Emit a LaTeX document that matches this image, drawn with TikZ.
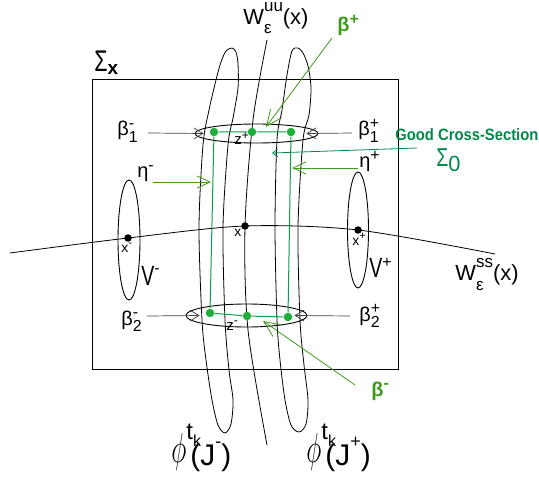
\documentclass[tikz,border=0pt]{standalone}
\usepackage{amsmath}
\usepackage{fontspec}
\setmainfont{Liberation Sans}
\usepackage{tikz}
\usetikzlibrary{arrows.meta,shapes.geometric}
\definecolor{sectgreen}{HTML}{00894B}
\definecolor{betagreen}{HTML}{3F9A1C}
\definecolor{dotgreen}{HTML}{1FAF3A}
\definecolor{pathgreen}{HTML}{12994A}
\renewcommand{\defaultscriptratio}{.8}
\newcommand{\supsub}[3]{#1$^{\text{#2}}_{\text{#3}}$}
% superscript over subscript, width of the wider one
\newcommand{\stk}[4]{\setbox0\hbox{\raisebox{#3}{#1}}\setbox2\hbox{\raisebox{#4}{#2}}%
  \ifdim\wd0>\wd2 \rlap{\box2}\box0 \else\rlap{\box0}\box2 \fi}
\newcommand{\flowof}[1]{\raisebox{3bp}{\resizebox{15bp}{29bp}{$\phi$}}%
  \rlap{\raisebox{26bp}{\fontsize{24}{24}\selectfont t\raisebox{-7bp}{\fontsize{16}{16}\selectfont k}}}%
  \kern4bp\fontsize{30}{30}\selectfont(J\raisebox{18bp}{\fontsize{18}{18}\selectfont#1})}

\begin{document}
\begin{tikzpicture}[x=1bp,y=-1bp,line width=.8bp,
  lbl/.style={inner sep=0pt,anchor=base west,font=\fontsize{20}{24}\selectfont},
  smalllbl/.style={lbl,font=\fontsize{14}{16}\selectfont},
  disk/.style={draw,ellipse,inner sep=0pt,line width=.9bp},
  blackdot/.style={circle,fill=black,inner sep=0pt,minimum size=7.5bp},
  greendot/.style={circle,fill=dotgreen,inner sep=0pt,minimum size=8.5bp},
  gpath/.style={pathgreen,line width=1bp},
  tick/.style={-{Straight Barb[length=9bp,width=11bp]},line width=.7bp,black!75},
  gtick/.style={-{Straight Barb[length=13bp,width=12bp]},line width=.8bp,betagreen},
  leaf/.style={line width=.8bp}]

\useasboundingbox (0,0) rectangle (539,477);

% cross-section box
\draw (92,79) rectangle (398,369);

% leaves J- , W^uu , J+
\draw[leaf] plot[smooth cycle] coordinates {(226,51) (232,48) (236,52) (238,64)
  (238,88) (233,118) (228,145) (223,227) (225,320) (229,370) (233,400) (231,424)
  (225,433) (218,425) (212,400) (206,360) (202,320) (199,227) (203,145) (209,110)
  (216,80) (221,62)};
\draw[leaf] plot[smooth cycle] coordinates {(292,51) (298,48) (303,53) (308,66)
  (311,88) (309,115) (303,140) (298,227) (300,320) (304,365) (308,400) (306,424)
  (299,432) (291,425) (285,400) (280,360) (277,320) (275,227) (277,140) (282,110)
  (287,75)};
\draw[leaf] plot[smooth] coordinates {(267,40) (253,120) (245,227) (248,330) (267,445)};

% neighbourhoods V- and V+
\node[disk,minimum width=22bp,minimum height=120bp] (vm) at (129,240) {};
\node[disk,minimum width=21bp,minimum height=116bp] (vp) at (358,230) {};

% stable leaf
\node[blackdot] (xm) at (128,238) {};
\node[blackdot] (x0) at (245,226) {};
\node[blackdot] (xp) at (358,230) {};
\coordinate (ssL) at (10,253);
\coordinate (ssR) at (495,254);
\draw[leaf] plot[smooth] coordinates {(ssL) (xm.center) (x0.center) (xp.center) (ssR)};

% the two discs
\node[disk,minimum width=123bp,minimum height=19bp] (topdisk) at (256.5,133.5) {};
\node[disk,minimum width=121bp,minimum height=23bp] (botdisk) at (246.5,315.5) {};

% good cross-section
\node[greendot] (zpL) at (214,132) {};
\node[greendot] (zp) at (252,132) {};
\node[greendot] (zpR) at (291,132) {};
\node[greendot] (zmL) at (210,313) {};
\node[greendot] (zm) at (247,316) {};
\node[greendot] (zmR) at (288,317) {};
\draw[gpath] (zpL) -- (zp) -- (zpR) -- (zmR) -- (zm) -- (zmL) -- (zpL);

% labels
\node[lbl,font=\fontsize{30}{30}\selectfont] (sigx) at (94,72)
  {\scalebox{.72}[1]{Σ}\raisebox{-3bp}{\fontsize{19}{19}\selectfont\bfseries x}};
\node[lbl,font=\fontsize{22}{24}\selectfont] (wuu) at (243,25)
  {W\stk{\fontsize{17}{17}\selectfont uu}{\fontsize{17}{17}\selectfont ε}{13bp}{-9bp}(x)};
\node[lbl,font=\fontsize{22}{24}\selectfont] (wss) at (455,280)
  {W\stk{\fontsize{17}{17}\selectfont ss}{\fontsize{17}{17}\selectfont ε}{13bp}{-10bp}(x)};
\node[lbl,text=betagreen,font=\fontsize{20}{22}\selectfont\bfseries] (bplus) at (337,32) {β$^{\text{+}}$};
\node[lbl,text=betagreen,font=\fontsize{20}{22}\selectfont\bfseries] (bminus) at (371,396) {β$^{\text{-}}$};
\node[lbl] (b1m) at (117,136) {\supsub{β}{-}{1}};
\node[lbl] (b1p) at (358,136) {\supsub{β}{+}{1}};
\node[lbl] (b2m) at (121,325) {\supsub{β}{-}{2}};
\node[lbl] (b2p) at (359,321) {\supsub{β}{+}{2}};
\node[lbl] (etam) at (137,178) {η$^{\text{-}}$};
\node[lbl] (etap) at (359,168) {η$^{\text{+}}$};
\node[lbl,text=sectgreen,font=\fontsize{16.5}{18}\selectfont\bfseries] (gcs) at (395,141)
  {\scalebox{.9}[1]{Good Cross-Section}};
\node[lbl,text=sectgreen,font=\fontsize{26}{26}\selectfont] (sig0) at (436,167)
  {\scalebox{.75}[1]{Σ}\raisebox{-5bp}{\fontsize{22}{22}\selectfont 0}};
\node[smalllbl] (xmlab) at (121,252) {x$^{\text{-}}$};
\node[smalllbl] (x0lab) at (234,236) {x};
\node[smalllbl] (xplab) at (352,245) {x$^{\text{+}}$};
\node[smalllbl,font=\fontsize{15}{16}\selectfont] (zplab) at (234,145) {z$^{\text{+}}$};
\node[smalllbl,font=\fontsize{15}{16}\selectfont] (zmlab) at (226,330) {z$^{\text{-}}$};
\node[lbl,font=\fontsize{28}{28}\selectfont] (vmlab) at (141,285)
  {\scalebox{.7}[1]{V}\raisebox{12bp}{\fontsize{16}{16}\selectfont -}};
\node[lbl,font=\fontsize{28}{28}\selectfont] (vplab) at (369,277)
  {\scalebox{.7}[1]{V}\raisebox{10bp}{\fontsize{16}{16}\selectfont +}};
\node[lbl] (jm) at (171,465) {\flowof{-}};
\node[lbl] (jp) at (306,465) {\flowof{+}};

% arrows to the disc ends
\coordinate (b1mS) at (148,133);
\coordinate (b1pS) at (352,133);
\coordinate (b2mS) at (147,316);
\coordinate (b2pS) at (350,316);
\draw[tick] (b1mS) -- ([xshift=9bp]topdisk.west);
\draw[tick] (b1pS) -- ([xshift=-12bp]topdisk.east);
\draw[tick] (b2mS) -- ([xshift=14bp]botdisk.west);
\draw[tick] (b2pS) -- ([xshift=-13bp]botdisk.east);

% green pointers
\coordinate (etamS) at (153,182);
\coordinate (etamE) at (211,182);
\coordinate (etapS) at (358,168);
\coordinate (etapE) at (292,168);
\coordinate (sigS) at (417,148);
\coordinate (sigE) at (272,153);
\coordinate (bpS) at (332,38);
\coordinate (bpE) at (266,127);
\coordinate (bmS) at (355,385);
\coordinate (bmE) at (263,321);
\draw[gtick] (etamS) -- (etamE);
\draw[gtick] (etapS) -- (etapE);
\draw[-{Straight Barb[length=5bp,width=8bp]},sectgreen] (sigS) -- (sigE);
\draw[gtick,-{Straight Barb[length=16bp,width=14bp]}] (bpS) -- (bpE);
\draw[gtick,-{Straight Barb[length=16bp,width=14bp]}] (bmS) -- (bmE);
\end{tikzpicture}
\end{document}
